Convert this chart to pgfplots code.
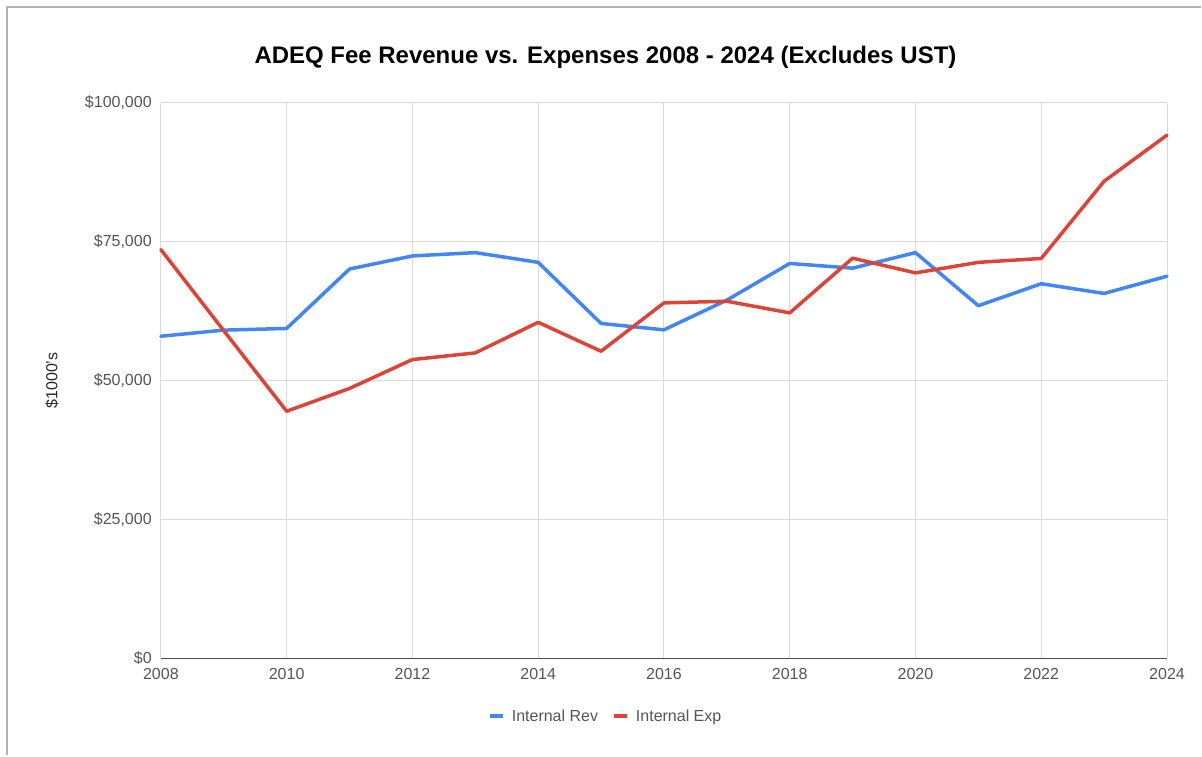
\documentclass[border=0pt]{standalone}
\usepackage{pgfplots}
\pgfplotsset{compat=1.18}
\usepackage{fontspec}
\setmainfont{Liberation Sans}
\definecolor{revblue}{HTML}{4285F4}
\definecolor{expred}{HTML}{DB4437}
\definecolor{gridgray}{HTML}{DADADA}
\definecolor{ticktext}{HTML}{555555}
\begin{document}
\begin{tikzpicture}[x=1pt,y=1pt]
\path (0,0) rectangle (1202,756);
\draw[color=black!30, line width=2pt] (7,0) -- (7,749) -- (1202,749);
\node[font=\fontsize{24}{28}\selectfont\bfseries, text=black] at (606,699) {ADEQ Fee Revenue vs. Expenses 2008 - 2024 (Excludes UST)};
\node[font=\fontsize{16}{19}\selectfont, text=black!85, rotate=90] at (52,375) {\$1000's};
\begin{axis}[
  at={(161pt,97pt)}, anchor=south west,
  width=1007pt, height=556pt, scale only axis,
  xmin=2008, xmax=2024, ymin=0, ymax=100000,
  clip=false,
  axis x line*=bottom, axis y line*=left,
  x axis line style={draw=black!70, line width=1.4pt, -},
  y axis line style={draw=none},
  major tick length=0pt, tick style={draw=none},
  grid=major, grid style={draw=gridgray, line width=1pt},
  xtick={2008,2010,2012,2014,2016,2018,2020,2022,2024},
  xticklabels={2008,2010,2012,2014,2016,2018,2020,2022,2024},
  ytick={0,25000,50000,75000,100000},
  yticklabels={\$0,{\$25,000},{\$50,000},{\$75,000},{\$100,000}},
  scaled y ticks=false, scaled x ticks=false,
  ticklabel style={font=\fontsize{16}{19}\selectfont, text=ticktext},
  /pgf/number format/assume math mode=true,
  yticklabel style={anchor=east, inner sep=0pt, xshift=-9pt},
  xticklabel style={anchor=north, inner sep=0pt, yshift=-10pt},
  legend style={at={(0.442,-0.104)}, anchor=center, draw=none, fill=none,
    legend columns=2, font=\fontsize{16}{19}\selectfont, text=ticktext,
    /tikz/every odd column/.append style={column sep=5pt},
    /tikz/every even column/.append style={column sep=12pt}},
  legend image code/.code={\draw[#1, line width=4pt, line cap=butt] (0pt,0pt) -- (13pt,0pt);},
  every axis plot/.append style={line width=3.5pt, line join=round, line cap=round},
]
\addplot[color=revblue] coordinates {
 (2008,58000) (2009,59100) (2010,59400) (2011,70100) (2012,72450) (2013,73050)
 (2014,71300) (2015,60300) (2016,59150) (2017,64500) (2018,71100) (2019,70250)
 (2020,73050) (2021,63500) (2022,67450) (2023,65700) (2024,68800)};
\addlegendentry{Internal Rev}
\addplot[color=expred] coordinates {
 (2008,73600) (2009,59000) (2010,44500) (2011,48600) (2012,53800) (2013,55000)
 (2014,60500) (2015,55300) (2016,64000) (2017,64300) (2018,62200) (2019,72050)
 (2020,69400) (2021,71300) (2022,72000) (2023,85900) (2024,94200)};
\addlegendentry{Internal Exp}
\end{axis}
\end{tikzpicture}
\end{document}
